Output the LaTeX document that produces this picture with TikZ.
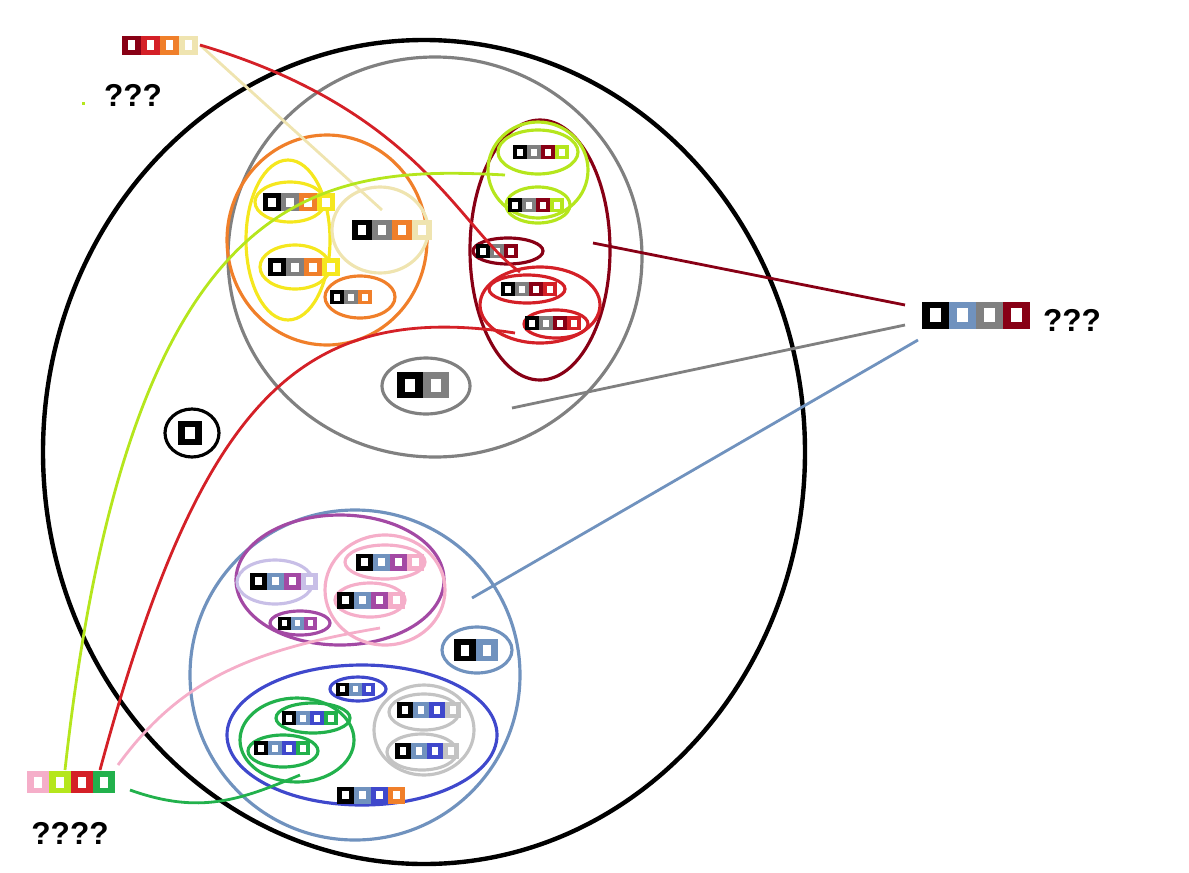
\documentclass[tikz,border=0pt]{standalone}
\usepackage{tikz}
\usepackage{fontspec}
\setmainfont{Liberation Sans}
\definecolor{dkred}{HTML}{880015}
\definecolor{brred}{HTML}{D42027}
\definecolor{orng}{HTML}{F07F2A}
\definecolor{beig}{HTML}{EFE4B0}
\definecolor{lime}{HTML}{B5E61D}
\definecolor{yell}{HTML}{F5E71E}
\definecolor{steel}{HTML}{7092BE}
\definecolor{purp}{HTML}{A349A4}
\definecolor{pnk}{HTML}{F5AEC9}
\definecolor{lav}{HTML}{C8BFE7}
\definecolor{navy}{HTML}{3F48CC}
\definecolor{grn}{HTML}{22B14C}
\definecolor{silv}{HTML}{C3C3C3}
\tikzstyle{ring}=[line width=1.8pt]
\tikzstyle{link}=[line width=1.6pt]
\tikzstyle{qmark}=[font=\bfseries\fontsize{18}{22}\selectfont]
% \chip{x}{y}{size}{colours}
\newcommand{\chip}[4]{%
  \foreach \c [count=\i from 0] in {#4} {
    \fill[\c] ({#1+\i*#3},{#2-#3/2}) rectangle ++(#3,#3);
    \fill[white] ({#1+\i*#3+#3*0.3},{#2-#3*0.25}) rectangle ++({#3*0.4},{#3*0.5});
  }}
\begin{document}
\begin{tikzpicture}[x=0.02cm,y=-0.02cm]
    \useasboundingbox (0,0) rectangle (1189,872);

    % big rings
    \draw[line width=2.5pt] (424,452) ellipse [x radius=381, y radius=412];
    \draw[ring, gray] (435,257) ellipse [x radius=207, y radius=200];
    \draw[ring, orng] (327,240) ellipse [x radius=100, y radius=105];
    \draw[ring, yell] (288,240) ellipse [x radius=42, y radius=80];
    \draw[ring, yell] (290,202) ellipse [x radius=35, y radius=20];
    \draw[ring, yell] (295,267) ellipse [x radius=35, y radius=22];
    \draw[ring, beig] (380,230) ellipse [x radius=48, y radius=43];
    \draw[ring, orng] (360,297) ellipse [x radius=35, y radius=21];
    \draw[ring, dkred] (540,250) ellipse [x radius=70, y radius=130];
    \draw[ring, lime] (538,170) ellipse [x radius=50, y radius=48];
    \draw[ring, lime] (538,152) ellipse [x radius=40, y radius=22];
    \draw[ring, lime] (538,205) ellipse [x radius=32, y radius=18];
    \draw[ring, dkred] (508,251) ellipse [x radius=35, y radius=13];
    \draw[ring, brred] (540,305) ellipse [x radius=60, y radius=38];
    \draw[ring, brred] (527,289) ellipse [x radius=38, y radius=14];
    \draw[ring, brred] (556,324) ellipse [x radius=32, y radius=14];
    \draw[ring, gray] (426,386) ellipse [x radius=44, y radius=28];
    \draw[ring] (192,433) ellipse [x radius=27, y radius=24];

    \draw[ring, steel] (355,675) ellipse [x radius=165, y radius=165];
    \draw[ring, purp] (340,580) ellipse [x radius=104, y radius=65];
    \draw[ring, pnk] (385,590) ellipse [x radius=60, y radius=55];
    \draw[ring, pnk] (385,562) ellipse [x radius=40, y radius=17];
    \draw[ring, pnk] (370,600) ellipse [x radius=35, y radius=17];
    \draw[ring, lav] (275,582) ellipse [x radius=38, y radius=22];
    \draw[ring, purp] (300,623) ellipse [x radius=30, y radius=12];
    \draw[ring, steel] (477,650) ellipse [x radius=35, y radius=23];
    \draw[ring, navy] (362,735) ellipse [x radius=135, y radius=70];
    \draw[ring, navy] (358,689) ellipse [x radius=28, y radius=12];
    \draw[ring, grn] (297,740) ellipse [x radius=57, y radius=42];
    \draw[ring, grn] (313,718) ellipse [x radius=37, y radius=15];
    \draw[ring, grn] (283,751) ellipse [x radius=35, y radius=16];
    \draw[ring, silv] (424,730) ellipse [x radius=50, y radius=45];
    \draw[ring, silv] (424,712) ellipse [x radius=35, y radius=18];
    \draw[ring, silv] (422,752) ellipse [x radius=35, y radius=18];

    % chips
    \chip{263}{202}{18}{black,gray,orng,yell}
    \chip{268}{267}{18}{black,gray,orng,yell}
    \chip{352}{230}{20}{black,gray,orng,beig}
    \chip{330}{297}{14}{black,gray,orng}
    \chip{513}{152}{14}{black,gray,dkred,lime}
    \chip{508}{205}{14}{black,gray,dkred,lime}
    \chip{476}{251}{14}{black,gray,dkred}
    \chip{501}{289}{14}{black,gray,dkred,brred}
    \chip{525}{323}{14}{black,gray,dkred,brred}
    \chip{397}{385}{26}{black,gray}
    \chip{178}{433}{24}{black}
    \chip{250}{581}{17}{black,steel,purp,lav}
    \chip{356}{562}{17}{black,steel,purp,pnk}
    \chip{337}{600}{17}{black,steel,purp,pnk}
    \chip{278}{623}{13}{black,steel,purp}
    \chip{454}{650}{22}{black,steel}
    \chip{336}{689}{13}{black,steel,navy}
    \chip{282}{718}{14}{black,steel,navy,grn}
    \chip{254}{748}{14}{black,steel,navy,grn}
    \chip{397}{710}{16}{black,steel,navy,silv}
    \chip{395}{751}{16}{black,steel,navy,silv}
    \chip{337}{795}{17}{black,steel,navy,orng}

    % legends
    \chip{122}{45}{19}{dkred,brred,orng,beig}
    \chip{922}{315}{27}{black,steel,gray,dkred}
    \chip{27}{782}{22}{pnk,lime,brred,grn}
    \node[qmark] (qtop) at (133,95) {???};
    \fill[lime] (82,102) rectangle ++(3,3);
    \node[qmark] (qright) at (1072,320) {???};
    \node[qmark] (qbot) at (70,833) {????};

    % connectors
    \coordinate (topend) at (200,45);
    \coordinate (rightA) at (905,305);
    \coordinate (rightB) at (905,325);
    \coordinate (rightC) at (918,340);
    \coordinate (botA) at (65,770);
    \coordinate (botB) at (100,770);
    \coordinate (botC) at (118,765);
    \coordinate (botD) at (130,790);
    \draw[link, beig] (topend) -- (382,210);
    \draw[link, brred] (topend) .. controls (420,110) and (460,230) .. (520,272);
    \draw[link, lime] (505,175) .. controls (320,165) and (130,180) .. (botA);
    \draw[link, brred] (515,333) .. controls (300,300) and (200,400) .. (botB);
    \draw[link, pnk] (380,628) .. controls (250,650) and (180,680) .. (botC);
    \draw[link, grn] (botD) .. controls (200,815) and (240,800) .. (300,775);
    \draw[link, dkred] (rightA) -- (593,243);
    \draw[link, gray] (rightB) -- (512,408);
    \draw[link, steel] (rightC) -- (472,598);
\end{tikzpicture}
\end{document}
